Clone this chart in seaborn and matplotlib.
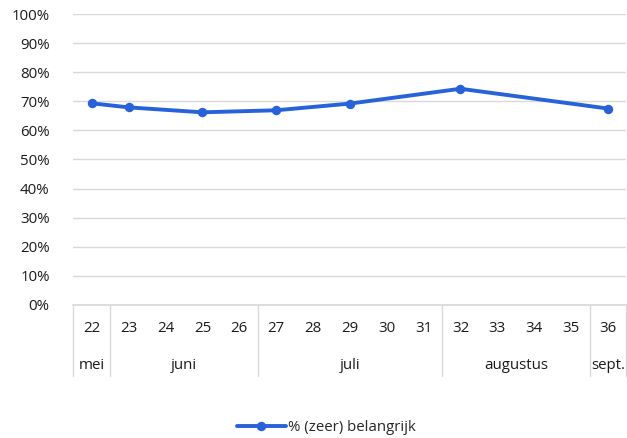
import numpy as np
import pandas as pd
import seaborn as sns
from matplotlib import pyplot as plt
from matplotlib.lines import Line2D

# data
weeks = [22, 23, 24, 25, 26, 27, 28, 29, 30, 31, 32, 33, 34, 35, 36]
values = [69.3, 67.9, np.nan, 66.2, np.nan, 66.9, np.nan, 69.2, np.nan, np.nan,
          74.3, np.nan, np.nan, np.nan, 67.5]
months = ['mei', 'juni', 'juli', 'augustus', 'sept.']
month_span = [(22, 22), (23, 26), (27, 31), (32, 35), (36, 36)]
series_name = '% (zeer) belangrijk'

blue = '#2862d9'
grid = '#d9d9d9'
txt = '#1a1a1a'

sns.set_theme(style='white')
plt.rcParams['font.family'] = ['Open Sans', 'DejaVu Sans']

df = pd.DataFrame({'pos': range(len(weeks)), 'week': weeks, 'value': values})
df = df.dropna()

fig = plt.figure(figsize=(6.27, 4.38), dpi=100)
ax = fig.add_axes([0.117, 0.304, 0.882, 0.664])

sns.lineplot(data=df, x='pos', y='value', ax=ax, color=blue, linewidth=2.8,
             marker='o', markersize=6.8, markeredgewidth=0, legend=False)

ax.set_xlim(-0.5, len(weeks) - 0.5)
ax.set_ylim(0, 100)
ax.set_yticks(range(0, 101, 10))
ax.set_yticklabels([f'{v}%' for v in range(0, 101, 10)], fontsize=10.8, color=txt)
ax.tick_params(axis='y', length=0, pad=17)
ax.yaxis.grid(True, color=grid, linewidth=1)
ax.set_axisbelow(True)
ax.set_xticks([])
ax.set_xlabel('')
ax.set_ylabel('')
for s in ['top', 'right', 'left']:
    ax.spines[s].set_visible(False)
ax.spines['bottom'].set_color(grid)

# two-level category axis
trans = ax.get_xaxis_transform()
for i, w in enumerate(weeks):
    ax.text(i, -0.08, str(w), transform=trans, ha='center', va='center',
            fontsize=10.8, color=txt)
for m, (a, b) in zip(months, month_span):
    c = (weeks.index(a) + weeks.index(b)) / 2
    ax.text(c, -0.21, m, transform=trans, ha='center', va='center',
            fontsize=10.8, color=txt)
seps = [-0.5] + [weeks.index(b) + 0.5 for a, b in month_span]
for x in seps:
    ax.plot([x, x], [0, -0.243], transform=trans, color=grid, linewidth=1,
            clip_on=False)

handle = Line2D([], [], color=blue, linewidth=2.8, marker='o', markersize=6.8,
                markeredgewidth=0)
fig.legend([handle], [series_name], loc='center', bbox_to_anchor=(0.52, 0.023),
           frameon=False, fontsize=10.8, handlelength=3.3, handletextpad=0.1)

fig.savefig('out.png', dpi=100)
